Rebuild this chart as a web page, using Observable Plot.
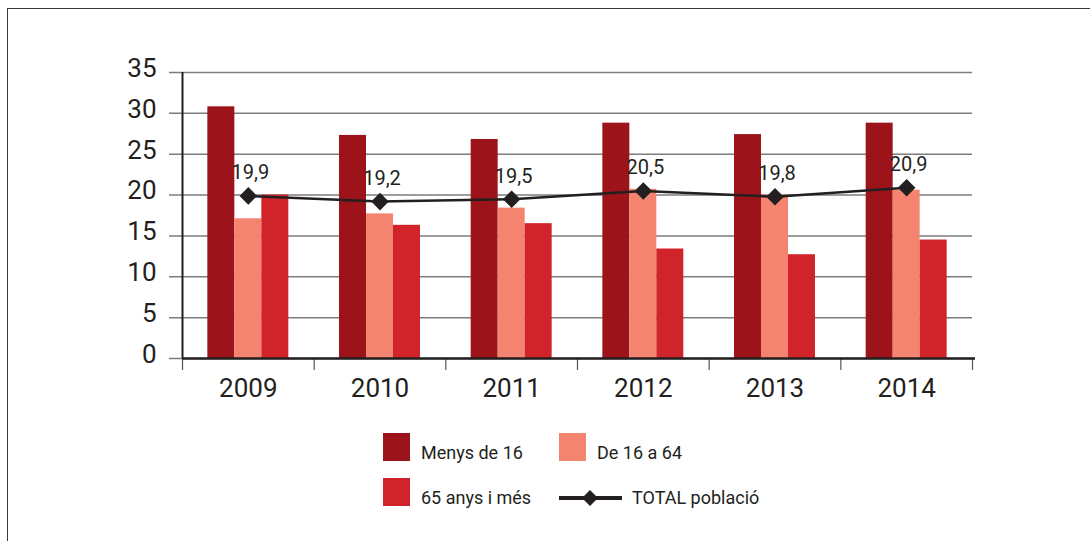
<!DOCTYPE html>
<html><head><meta charset="utf-8">
<script src="https://cdn.jsdelivr.net/npm/d3@7"></script>
<script src="https://cdn.jsdelivr.net/npm/@observablehq/plot@0.6"></script>
<style>
body{margin:0;background:#fff;font-family:Roboto, "DejaVu Sans", sans-serif;}
#wrap{position:relative;width:1090px;height:541px;overflow:hidden}
#frame{position:absolute;left:7px;top:8px;right:-10px;bottom:-10px;border-left:1.5px solid #3a3a3a;border-top:1.5px solid #3a3a3a}
#chart{position:absolute;left:0;top:0}
.lg{position:absolute;font-size:18px;font-weight:400;color:#231f20;line-height:1}
.sw{position:absolute;width:27px;height:28px}
</style></head><body>
<div id="wrap"><div id="frame"></div><div id="chart"></div><div id="legend"></div></div>
<script>
const years = [2009, 2010, 2011, 2012, 2013, 2014];
const series = ["Menys de 16", "De 16 a 64", "65 anys i més"];
const menys16 = [30.8, 27.3, 26.8, 28.8, 27.4, 28.8];
const de16a64 = [17.1, 17.7, 18.4, 20.7, 20.0, 20.6];
const anys65 = [20.0, 16.3, 16.5, 13.4, 12.7, 14.5];
const total = [19.9, 19.2, 19.5, 20.5, 19.8, 20.9];
const totalLabels = ["19,9", "19,2", "19,5", "20,5", "19,8", "20,9"];
const totalName = "TOTAL població";
const colors = ["#9c1419", "#f4846f", "#d1232a"];
const yTicks = [0, 5, 10, 15, 20, 25, 30, 35];

const seriesValues = [menys16, de16a64, anys65];
const bars = [];
years.forEach((yr, j) => seriesValues.forEach((vals, i) => bars.push({year: yr, i, series: series[i], value: vals[j]})));
const totalRows = years.map((yr, j) => ({year: yr, value: total[j], label: totalLabels[j]}));
const barW = 0.205;
const boundaries = [years[0] - 0.5, ...years.map(y => y + 0.5)];

const plot = Plot.plot({
  width: 1090, height: 410,
  marginLeft: 182, marginRight: 118, marginTop: 72, marginBottom: 52,
  style: {color: "#231f20", fontFamily: "Roboto, sans-serif", background: "transparent", overflow: "visible"},
  x: {type: "linear", domain: [years[0] - 0.5, years[years.length - 1] + 0.5], axis: null, label: null},
  y: {domain: [0, 35], axis: null, label: null},
  color: {domain: series, range: colors},
  marks: [
    Plot.ruleY(yTicks, {stroke: "#7d7d7d", strokeWidth: 1.5, insetLeft: -13}),
    Plot.rectY(bars, {x1: d => d.year + (d.i - 1.5) * barW, x2: d => d.year + (d.i - 0.5) * barW, y: "value", fill: "series"}),
    Plot.ruleX([years[0] - 0.5], {y1: 0, y2: 35, stroke: "#231f20", strokeWidth: 2}),
    Plot.axisY(yTicks, {tickSize: 0, tickPadding: 26, fontSize: 26, dy: -4, label: null}),
    Plot.axisX(boundaries, {tickSize: 12, stroke: "#555", strokeWidth: 1.2, tickFormat: () => "", label: null}),
    Plot.axisX(years, {tickSize: 0, tickPadding: 20, fontSize: 26, tickFormat: d => String(d), label: null}),
    Plot.ruleY([0], {stroke: "#231f20", strokeWidth: 2.5, insetRight: -3}),
    Plot.line(totalRows, {x: "year", y: "value", stroke: "#231f20", strokeWidth: 2.5}),
    Plot.dot(totalRows, {x: "year", y: "value", symbol: "square", rotate: 45, fill: "#231f20", r: 7}),
    Plot.text(totalRows, {x: "year", y: "value", text: "label", dy: -23, dx: 2, fontSize: 20, fill: "#231f20"})
  ]
});
document.getElementById("chart").appendChild(plot);

// legend
const legend = document.getElementById("legend");
const items = [
  {label: series[0], color: colors[0], x: 383, y: 433},
  {label: series[1], color: colors[1], x: 559, y: 433},
  {label: series[2], color: colors[2], x: 383, y: 478}
];
items.forEach(it => {
  const s = document.createElement("div"); s.className = "sw";
  s.style.left = it.x + "px"; s.style.top = it.y + "px"; s.style.background = it.color;
  legend.appendChild(s);
  const t = document.createElement("div"); t.className = "lg"; t.textContent = it.label;
  t.style.left = (it.x + 38) + "px"; t.style.top = (it.y + 11) + "px";
  legend.appendChild(t);
});
const ls = document.createElementNS("http://www.w3.org/2000/svg", "svg");
ls.setAttribute("width", 66); ls.setAttribute("height", 20);
ls.style.position = "absolute"; ls.style.left = "558px"; ls.style.top = "488px";
ls.innerHTML = '<line x1="1" x2="64" y1="10" y2="10" stroke="#231f20" stroke-width="4"/><path d="M32 2 L40 10 L32 18 L24 10Z" fill="#231f20"/>';
legend.appendChild(ls);
const lt = document.createElement("div"); lt.className = "lg"; lt.textContent = totalName;
lt.style.left = "632px"; lt.style.top = "489px";
legend.appendChild(lt);
</script>
</body></html>
